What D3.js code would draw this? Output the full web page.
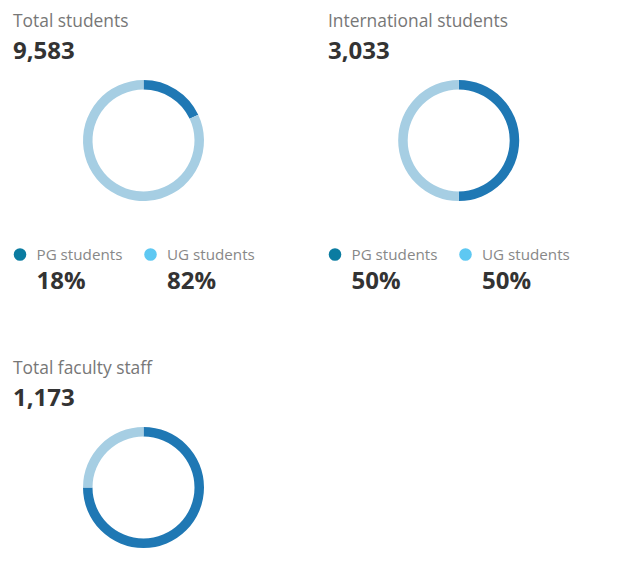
<!DOCTYPE html>
<html>
<head>
<meta charset="utf-8">
<script src="https://cdn.jsdelivr.net/npm/d3@7"></script>
<style>
  html, body { margin: 0; padding: 0; background: #fff; }
  svg { display: block; font-family: "Open Sans", sans-serif; }
</style>
</head>
<body>
<svg id="chart" width="625" height="568"></svg>
<script>
// Data
const panelTitles = ["Total students", "International students", "Total faculty staff"];
const panelTotals = [9583, 3033, 1173];
const seriesNames = ["PG students", "UG students"];
const darkShare = [18, 50, 75];   // dark arc share (%)
const lightShare = [82, 50, 25];  // light arc share (%)
const showLegend = [true, true, false];

const svg = d3.select("#chart");
const fmt = d3.format(",");
const arcColors = ["#1f78b4", "#a6cee3"];
const dotColors = ["#0b7ca1", "#5ec8f2"];

const panels = [
  { x: 13, y: 0, cx: 143.5, cy: 140.5 },
  { x: 328, y: 0, cx: 458.7, cy: 140.5 },
  { x: 13, y: 347, cx: 143.5, cy: 487.5 }
];

const pie = d3.pie().sort(null).value(d => d);
const arc = d3.arc().innerRadius(51).outerRadius(60.5);

panels.forEach((p, i) => {
  const g = svg.append("g");
  g.append("text").attr("x", p.x).attr("y", p.y + 27)
    .attr("font-size", 17.4).attr("fill", "#777").text(panelTitles[i]);
  g.append("text").attr("x", p.x).attr("y", p.y + 58.5)
    .attr("font-size", 24).attr("font-weight", 700).attr("fill", "#333")
    .text(fmt(panelTotals[i]));

  const vals = [darkShare[i], lightShare[i]];
  g.append("g").attr("transform", `translate(${p.cx},${p.cy})`)
    .selectAll("path").data(pie(vals)).join("path")
    .attr("d", arc).attr("fill", (d, j) => arcColors[j]);

  if (showLegend[i]) {
    const lx = [p.x + 7, p.x + 137.5];
    vals.forEach((v, j) => {
      g.append("circle").attr("cx", lx[j]).attr("cy", 254.5).attr("r", 6.3)
        .attr("fill", dotColors[j]);
      g.append("text").attr("x", lx[j] + 16.5).attr("y", 260)
        .attr("font-size", 15.2).attr("fill", "#888").text(seriesNames[j]);
      g.append("text").attr("x", lx[j] + 16.5).attr("y", 289)
        .attr("font-size", 24).attr("font-weight", 700).attr("fill", "#333")
        .text(v + "%");
    });
  }
});
</script>
</body>
</html>
